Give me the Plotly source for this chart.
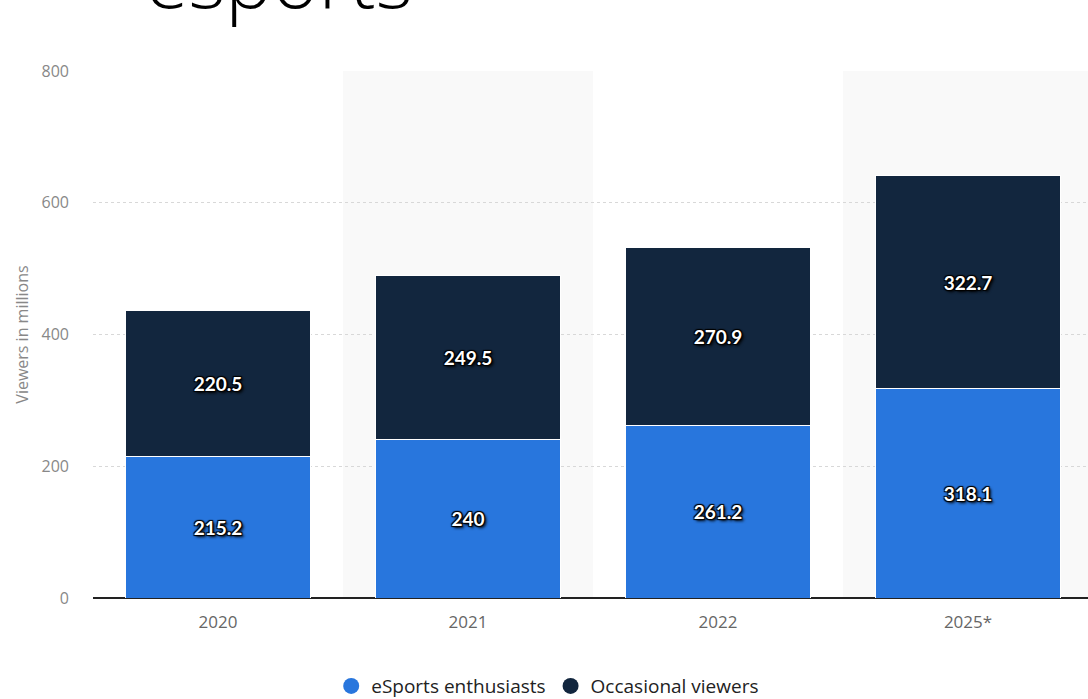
import plotly.graph_objects as go

categories = ["2020", "2021", "2022", "2025*"]
enthusiasts = [215.2, 240, 261.2, 318.1]
occasional = [220.5, 249.5, 270.9, 322.7]
series_names = ["eSports enthusiasts", "Occasional viewers"]
colors = ["#2876dd", "#12263e"]
y_ticks = [0, 200, 400, 600, 800]

fig = go.Figure()
label_font = dict(family="Lato, 'Open Sans', sans-serif", size=19, color="white",
                  weight="bold",
                  shadow="1px 1px 1px #000, -1px -1px 1px #000, 1px -1px 1px #000, -1px 1px 1px #000, 2px 2px 3px #000")
for vals, name, col in zip([enthusiasts, occasional], series_names, colors):
    fig.add_trace(go.Bar(
        x=categories, y=vals, name=name, showlegend=False,
        marker=dict(color=col, line=dict(color="white", width=1)),
        width=0.74,
        text=[f"{v:g}" for v in vals], textposition="inside",
        insidetextanchor="middle", textfont=label_font,
        hoverinfo="skip",
    ))
    fig.add_trace(go.Scatter(
        x=[None], y=[None], mode="markers", name=name,
        marker=dict(color=col, size=19, symbol="circle"),
    ))

# alternating background bands
for i in [1, 3]:
    fig.add_shape(type="rect", xref="x", yref="y", x0=i - 0.5, x1=i + 0.5,
                  y0=0, y1=800, fillcolor="#f9f9f9", line_width=0, layer="below")

fig.update_layout(
    width=1088, height=699,
    margin=dict(l=93, r=0, t=71, b=101, autoexpand=False),
    paper_bgcolor="white", plot_bgcolor="white",
    barmode="stack",
    font=dict(family="'Open Sans', 'Noto Sans', sans-serif", color="#666"),
    legend=dict(orientation="h", traceorder="normal", x=0.457, xanchor="center",
                y=-0.131, yanchor="top",
                font=dict(size=19, color="#222"), itemwidth=30),
    xaxis=dict(type="category", range=[-0.5, 3.48], showgrid=False,
               tickfont=dict(size=17, color="#666"),
               ticklabelstandoff=12, ticks="", showline=False),
    yaxis=dict(range=[0, 800], tickvals=y_ticks, showgrid=True,
               gridcolor="#d8d8d8", griddash="dot", gridwidth=1,
               zeroline=True, zerolinecolor="#222", zerolinewidth=1.5,
               tickfont=dict(size=16, color="#888"), ticklabelstandoff=23,
               title=dict(text="Viewers in millions", font=dict(size=16, color="#888"),
                          standoff=8)),
    annotations=[dict(text="esports", xref="paper", yref="paper",
                      x=(279 - 93) / 995, xanchor="center",
                      y=1 + (71 - 8) / 527, yanchor="bottom", yshift=-25,
                      showarrow=False,
                      font=dict(size=79, color="#000",
                                family="'Open Sans', 'Noto Sans', sans-serif", weight=300))],
)

fig.write_html("out.html")
